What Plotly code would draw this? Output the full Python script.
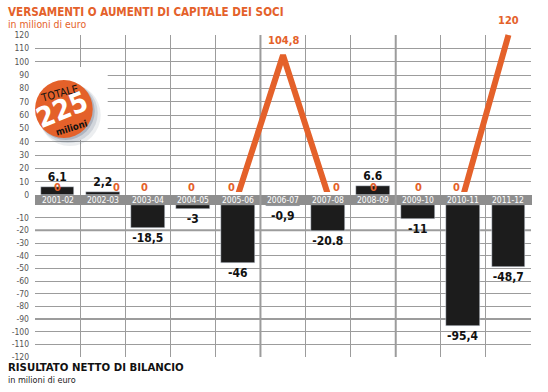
import plotly.graph_objects as go

# ---------------- data ----------------
categories = ["2001-02", "2002-03", "2003-04", "2004-05", "2005-06", "2006-07",
              "2007-08", "2008-09", "2009-10", "2010-11", "2011-12"]
risultato = [6.1, 2.2, -18.5, -3, -46, -0.9, -20.8, 6.6, -11, -95.4, -48.7]
risultato_labels = ["6.1", "2,2", "-18,5", "-3", "-46", "-0,9", "-20.8", "6.6", "-11", "-95,4", "-48,7"]
capitale = [0, 0, 0, 0, 0, 104.8, 0, 0, 0, 0, 120]
capitale_labels = ["0", "0", "0", "0", "0", "104,8", "0", "0", "0", "0", "120"]
pos_ticks = [0, 10, 20, 30, 40, 50, 60, 70, 80, 90, 100, 110, 120]
neg_ticks = [-10, -20, -30, -40, -50, -60, -70, -80, -90, -100, -110, -120]
totale_value = "225"

# ---------------- style ----------------
W, H = 548, 392
L, R, T, B = 33, 531, 25, 357          # plot area in pixels
ORANGE = "#E4612A"
BAR = "#1c1c1c"
GRID = "#9c9c9c"
BAND = "#8e8e8e"
NARROW = "DejaVu Sans Condensed, Liberation Sans Narrow, sans-serif"
zero_label_xshift = [0, 14, -3, -1, -6, 0, 8, 0, 0, -7, 0]

def fx(px):
    return (px - L) / (R - L)

def fy(py):
    return (B - py) / (B - T)

idx = list(range(len(categories)))
pos_vals = [v if v > 0 else None for v in risultato]
neg_vals = [v if v < 0 else None for v in risultato]
pos_txt = [t if v > 0 else "" for v, t in zip(risultato, risultato_labels)]
neg_txt = [t if v < 0 else "" for v, t in zip(risultato, risultato_labels)]

fig = go.Figure()
bar_font = dict(family=NARROW, size=12, color="#111111", weight="bold")
fig.add_trace(go.Bar(x=idx, y=pos_vals, xaxis="x", yaxis="y", marker_color=BAR,
                     width=0.75, text=pos_txt, textposition="outside",
                     textfont=bar_font, constraintext="none", cliponaxis=False,
                     hoverinfo="skip", showlegend=False))
fig.add_trace(go.Bar(x=idx, y=neg_vals, xaxis="x", yaxis="y2", marker_color=BAR,
                     width=0.75, text=neg_txt, textposition="outside",
                     textfont=bar_font, constraintext="none", cliponaxis=False,
                     hoverinfo="skip", showlegend=False))
fig.add_trace(go.Scatter(x=idx, y=capitale, xaxis="x2", yaxis="y3", mode="lines",
                         line=dict(color=ORANGE, width=6), hoverinfo="skip",
                         showlegend=False))

xr = [-0.5, len(categories) - 0.5]
boundaries = [i + 0.5 for i in idx[:-1]]
pos_bottom, pos_top = 195, 35
neg_top = 205
line_bottom = 192
scale = (pos_bottom - pos_top) / 120.0
tickfont = dict(family=NARROW, size=8.5, color="#555555")

fig.update_layout(
    width=W, height=H,
    margin=dict(l=L, r=W - R, t=T, b=H - B),
    paper_bgcolor="white", plot_bgcolor="rgba(0,0,0,0)",
    bargap=0,
    xaxis=dict(range=xr, tickmode="array", tickvals=boundaries, showticklabels=False,
               showgrid=True, gridcolor=GRID, gridwidth=1, zeroline=False,
               anchor="y2", fixedrange=True),
    xaxis2=dict(range=xr, showgrid=False, showticklabels=False, zeroline=False,
                anchor="y3", overlaying="x", fixedrange=True),
    yaxis=dict(domain=[fy(pos_bottom), fy(pos_top)], range=[0, 120], tickmode="array",
               tickvals=pos_ticks, ticktext=[str(t) for t in pos_ticks],
               showgrid=True, gridcolor=GRID, gridwidth=1, zeroline=False,
               tickfont=tickfont, ticks="", ticklabelstandoff=5, fixedrange=True),
    yaxis2=dict(domain=[0, fy(neg_top)], range=[-120, 0], tickmode="array",
                tickvals=neg_ticks, ticktext=["-" + str(abs(t)) for t in neg_ticks],
                showgrid=True, gridcolor=GRID, gridwidth=1, zeroline=False,
                tickfont=tickfont, ticks="", ticklabelstandoff=5, fixedrange=True),
    yaxis3=dict(domain=[fy(line_bottom), 1],
                range=[(pos_bottom - line_bottom) / scale, (pos_bottom - T) / scale],
                showgrid=False, showticklabels=False, zeroline=False,
                anchor="x2", fixedrange=True),
)

shapes = []
# category band
shapes.append(dict(type="rect", xref="paper", yref="paper", x0=0, x1=fx(R + 1),
                   y0=fy(neg_top), y1=fy(pos_bottom), fillcolor=BAND, line_width=0,
                   layer="between"))
# heavier grid lines (as in the print)
for v in [-20, -90]:
    shapes.append(dict(type="line", xref="paper", yref="y2", x0=0, x1=1, y0=v, y1=v,
                       line=dict(color=GRID, width=2), layer="between"))
for b in [4.5, 7.5]:
    shapes.append(dict(type="line", xref="x", yref="paper", x0=b, x1=b, y0=0, y1=fy(pos_top),
                       line=dict(color=GRID, width=2), layer="between"))
# badge: white halo, shadow, disc
cx, cy, r = 62, 109, 29
shapes.append(dict(type="rect", xref="paper", yref="paper", x0=fx(L), x1=fx(106),
                   y0=fy(140), y1=fy(67), fillcolor="white", line_width=0, layer="above"))
for d, a, rr in [(6, 0.10, 31), (4, 0.16, 30), (2, 0.25, 29)]:
    shapes.append(dict(type="circle", xref="paper", yref="paper",
                       x0=fx(cx - rr + d), x1=fx(cx + rr + d),
                       y0=fy(cy + rr + d), y1=fy(cy - rr + d),
                       fillcolor=f"rgba(70,85,110,{a})", line_width=0, layer="above"))
shapes.append(dict(type="circle", xref="paper", yref="paper",
                   x0=fx(cx - r), x1=fx(cx + r), y0=fy(cy + r), y1=fy(cy - r),
                   fillcolor=ORANGE, line_width=0, layer="above"))
fig.update_layout(shapes=shapes)

ann = []
# category labels in the band
for i, c in zip(idx, categories):
    ann.append(dict(x=i, y=fy((pos_bottom + neg_top) / 2), xref="x", yref="paper",
                    text=c, showarrow=False, xanchor="center", yanchor="middle",
                    font=dict(family=NARROW, size=8.5, color="white")))
# capital labels
for i, v, t in zip(idx, capitale, capitale_labels):
    if v == 0:
        ann.append(dict(x=i, y=0, xref="x", yref="y", text=t, showarrow=False,
                        xanchor="center", yanchor="bottom", yshift=-1,
                        xshift=zero_label_xshift[i],
                        font=dict(family=NARROW, size=11, color=ORANGE, weight="bold")))
    else:
        ann.append(dict(x=i, y=v, xref="x2", yref="y3", text=t, showarrow=False,
                        xanchor="center", yanchor="bottom", yshift=6,
                        font=dict(family=NARROW, size=11, color=ORANGE, weight="bold")))

def txt(px, py, text, size, color, bold=False, angle=0, anchor="left"):
    f = dict(family=NARROW, size=size, color=color)
    if bold:
        f["weight"] = "bold"
    return dict(x=fx(px), y=fy(py), xref="paper", yref="paper", text=text,
                showarrow=False, xanchor=anchor, yanchor="middle", textangle=angle,
                font=f)

# titles
ann.append(txt(4, 12, "VERSAMENTI O AUMENTI DI CAPITALE DEI SOCI", 11.6, ORANGE, bold=True))
ann.append(txt(4, 24, "in milioni di euro", 10.4, ORANGE))
ann.append(txt(4, 367, "RISULTATO NETTO DI BILANCIO", 11.3, "#111111", bold=True))
ann.append(txt(4, 380, "in milioni di euro", 9, "#222222"))
# badge texts
ann.append(txt(58, 93, "TOTALE", 11, "#111111", angle=-15, anchor="center"))
ann.append(txt(61, 110, totale_value, 28, "white", bold=True, angle=-22, anchor="center"))
ann.append(txt(70, 127, "milioni", 9.5, "#111111", bold=True, angle=-17, anchor="center"))
fig.update_layout(annotations=ann)

fig.write_html("out.html", config={"displayModeBar": False},
               post_script="document.body.style.margin='0';document.body.style.padding='0';")
